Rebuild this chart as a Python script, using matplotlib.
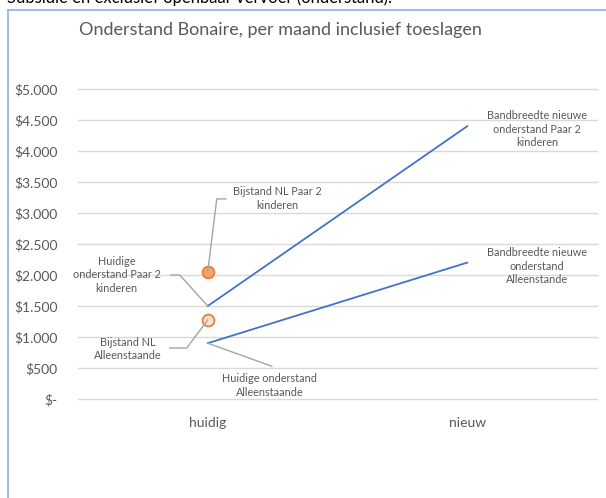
import matplotlib
matplotlib.use("Agg")
import matplotlib.pyplot as plt
from matplotlib.lines import Line2D
from matplotlib.ticker import FuncFormatter

categorieen = ["huidig", "nieuw"]
paar2 = [1500, 4400]
alleen = [900, 2200]
bijstand_paar2 = 2050
bijstand_alleen = 1275
y_ticks = [0, 500, 1000, 1500, 2000, 2500, 3000, 3500, 4000, 4500, 5000]

titel = "Onderstand Bonaire, per maand inclusief toeslagen"
kop = "Subsidie en exclusief openbaar vervoer (onderstand)."

GRIJS = "#595959"
BLAUW = "#4472C4"
ORANJE = "#ED7D31"
LIJN = "#A5A5A5"

plt.rcParams["font.family"] = ["Lato", "DejaVu Sans"]

fig = plt.figure(figsize=(6.06, 4.98), dpi=100)
W, H = 606, 498
ax = fig.add_axes([78 / W, 1 - 399 / H, 519 / W, 310 / H])

x = [0, 1]
ax.plot(x, paar2, color=BLAUW, lw=1.3, zorder=3)
ax.plot(x, alleen, color=BLAUW, lw=1.3, zorder=3)
ax.plot([0], [bijstand_paar2], "o", ms=8.5, mfc="#F4A36C", mec=ORANJE, mew=1.3, zorder=4)
ax.plot([0], [bijstand_alleen], "o", ms=8.5, mfc="#FBE0CD", mec=ORANJE, mew=1.3, zorder=4)

ax.set_xlim(-0.5, 1.5)
ax.set_ylim(0, 5000)
ax.set_yticks(y_ticks)
ax.yaxis.set_major_formatter(FuncFormatter(
    lambda v, p: "$-" if v == 0 else "$" + f"{int(v):,}".replace(",", ".")))
ax.set_xticks(x)
ax.set_xticklabels(categorieen)
ax.grid(axis="y", color="#D9D9D9", lw=1)
for g in ax.get_ygridlines():
    g.set_clip_on(False)
ax.set_axisbelow(True)
for s in ax.spines.values():
    s.set_visible(False)
ax.tick_params(length=0, colors=GRIJS, labelsize=10)
ax.tick_params(axis="y", pad=14.5)
ax.tick_params(axis="x", pad=13)


def pix(xd, yd):
    # data -> image pixels (y naar beneden)
    px, py = ax.transData.transform((xd, yd))
    return px, H - py


def to_fig(px, py):
    return px / W, 1 - py / H


def leider(xd, yd, offsets, tekst, toff):
    px, py = pix(xd, yd)
    xs = [to_fig(px + dx, py + dy)[0] for dx, dy in offsets]
    ys = [to_fig(px + dx, py + dy)[1] for dx, dy in offsets]
    if len(offsets) > 1:
        fig.add_artist(Line2D(xs, ys, color=LIJN, lw=1, zorder=2))
    tx, ty = to_fig(px + toff[0], py + toff[1])
    fig.text(tx, ty, tekst, ha="center", va="center", fontsize=7.8,
             color=GRIJS, linespacing=1.3)


leider(0, bijstand_paar2, [(0, 0), (9, -73), (18, -73)],
       "Bijstand NL Paar 2\nkinderen", (70, -73.5))
leider(0, paar2[0], [(0, 0), (-28, -31), (-37, -31)],
       "Huidige\nonderstand Paar 2\nkinderen", (-91, -31))
leider(0, bijstand_alleen, [(0, 0), (-21, 28), (-38, 28)],
       "Bijstand NL\nAlleenstaande", (-80, 29))
leider(0, alleen[0], [(0, 0), (64, 23)],
       "Huidige onderstand\nAlleenstaande", (62, 42))
leider(1, paar2[1], [(0, 0)],
       "Bandbreedte nieuwe\nonderstand Paar 2\nkinderen", (70, 3))
leider(1, alleen[1], [(0, 0)],
       "Bandbreedte nieuwe\nonderstand\nAlleenstande", (70, 3.5))

fig.text(280 / W, 1 - 30 / H, titel, ha="center", va="center",
         fontsize=13, color=GRIJS)

# kader van de grafiek en afgesneden kop
fig.add_artist(Line2D([7.5 / W, 7.5 / W], [0, 1 - 10 / H], color="#8DB3E2", lw=1.2))
fig.add_artist(Line2D([7.5 / W, 1], [1 - 10 / H, 1 - 10 / H], color="#8DB3E2", lw=1.2))
fig.text(7 / W, 1 - 3 / H, kop, ha="left", va="baseline", fontsize=12, color="black")

fig.savefig("out.png", dpi=100)
